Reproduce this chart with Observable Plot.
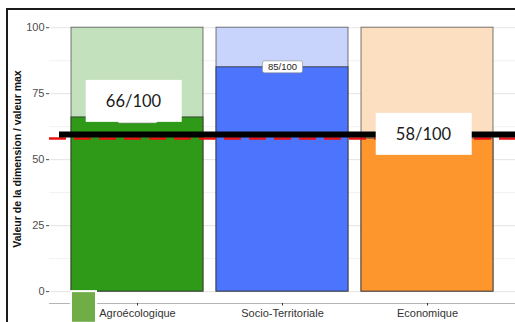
<!DOCTYPE html>
<html>
<head>
<meta charset="utf-8">
<script src="https://cdn.jsdelivr.net/npm/d3@7"></script>
<script src="https://cdn.jsdelivr.net/npm/@observablehq/plot@0.6"></script>
<style>
  html, body { margin: 0; padding: 0; background: #fff; }
  #wrap { position: relative; width: 515px; height: 322px; overflow: hidden; }
  #edge { position: absolute; left: 6px; top: 8px; width: 520px; height: 330px;
          border-top: 2px solid #1a1a1a; border-left: 2px solid #1a1a1a; pointer-events: none; }
</style>
</head>
<body>
<div id="wrap"><div id="edge"></div></div>
<script>
// Dimension scores (out of 100)
const categories = ["Agroécologique", "Socio-Territoriale", "Economique"];
const scores = [66, 85, 58];
const maxScores = [100, 100, 100];

// Reference levels drawn across the chart
const referenceLevel = 58;   // red dashed line
const targetLevel = 59.5;    // thick black line

// Axis ticks
const yTicks = [0, 25, 50, 75, 100];
const yMinorTicks = [12.5, 37.5, 62.5, 87.5];
const yMin = -4.5, yMax = 105;

// Callout boxes: which dimension, and the level where the box sits
const calloutCategories = ["Agroécologique", "Economique"];
const calloutLevels = [72, 59.5];

// Palettes
const lightFill = ["#c3e1bc", "#c9d4fd", "#fcdfc1"];
const darkFill = ["#2f9a17", "#4c74fc", "#fd962d"];

const rows = categories.map((c, i) => ({
  category: c, score: scores[i], max: maxScores[i],
  light: lightFill[i], dark: darkFill[i]
}));
const callouts = calloutCategories.map((c, i) => ({
  category: c, at: calloutLevels[i], score: scores[categories.indexOf(c)]
}));

const CALLOUT_SIZE = 16.5;
const SMALL_SIZE = 9.5;

const chart = Plot.plot({
  width: 515,
  height: 322,
  marginLeft: 49,
  marginRight: 0,
  marginTop: 14,
  marginBottom: 19,
  style: { fontFamily: "'Liberation Sans', Arial, sans-serif", background: "transparent" },
  x: { domain: categories, paddingInner: 0.09, paddingOuter: 0.15, label: null },
  y: { domain: [yMin, yMax], label: null },
  marks: [
    Plot.ruleY(yMinorTicks, { stroke: "#f2f2f2", strokeWidth: 1 }),
    Plot.ruleY(yTicks, { stroke: "#e4e4e4", strokeWidth: 1 }),
    Plot.ruleY([yMin], { stroke: "#b5b5b5", strokeWidth: 1 }),
    Plot.axisY({ ticks: yTicks, tickSize: 3, tickPadding: 2, fontSize: 11, color: "#4d4d4d", label: null }),
    Plot.axisX({ tickSize: 2.5, tickPadding: 3, fontSize: 11, color: "#333", label: null }),
    Plot.text(["Valeur de la dimension / valeur max"], {
      frameAnchor: "left", textAnchor: "middle", rotate: -90, dx: -32,
      fontWeight: "bold", fontSize: 10.5, fill: "#111"
    }),
    Plot.barY(rows, { x: "category", y: "max", fill: "light", stroke: "#333", strokeOpacity: 0.65, strokeWidth: 1 }),
    Plot.barY(rows, { x: "category", y: "score", fill: "dark", stroke: "#333", strokeOpacity: 0.85, strokeWidth: 1 }),
    Plot.text(rows, {
      x: "category", y: "score", text: d => `${d.score}/100`,
      fontSize: SMALL_SIZE, fill: "#222"
    }),
    Plot.ruleY([referenceLevel], { stroke: "#ee1111", strokeWidth: 2.5, strokeDasharray: "17,8" }),
    Plot.ruleY([targetLevel], { stroke: "#000", strokeWidth: 6, insetLeft: 10 }),
    Plot.text(callouts, {
      x: "category", y: "at", text: d => `${d.score}/100`, dx: -4,
      fontFamily: "Lato, 'Open Sans', sans-serif", fontSize: CALLOUT_SIZE, fill: "#1a1a1a"
    }),
    // colour swatch under the first category
    Plot.barY([categories[0]], {
      x: d => d, y1: 0, y2: -12, fill: "#70ad47", stroke: "#fff", strokeWidth: 2, insetRight: 107
    })
  ]
});

const wrap = document.getElementById("wrap");
wrap.insertBefore(chart, wrap.firstChild);
chart.style.display = "block";

// White boxes behind the score labels and the callouts
const SVGNS = "http://www.w3.org/2000/svg";
chart.querySelectorAll("text").forEach(t => {
  if (!/^\d+\/100$/.test(t.textContent.trim())) return;
  const size = parseFloat(getComputedStyle(t).fontSize);
  const big = size > 12;
  const b = t.getBBox();
  const w = big ? 96 : b.width + 11;
  const h = big ? 42 : b.height + 1;
  const r = document.createElementNS(SVGNS, "rect");
  r.setAttribute("x", b.x + b.width / 2 - w / 2);
  r.setAttribute("y", b.y + b.height / 2 - h / 2);
  r.setAttribute("width", w);
  r.setAttribute("height", h);
  r.setAttribute("rx", big ? 0 : 2);
  r.setAttribute("fill", "#fff");
  if (!big) { r.setAttribute("stroke", "#888"); r.setAttribute("stroke-width", 0.6); }
  const tr = t.getAttribute("transform");
  if (tr) r.setAttribute("transform", tr);
  t.parentNode.insertBefore(r, t);
});
</script>
</body>
</html>
